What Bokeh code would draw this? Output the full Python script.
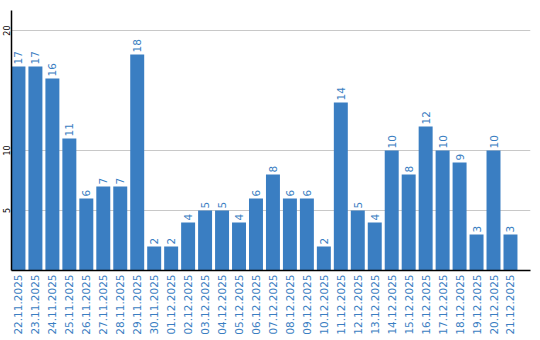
import math
from bokeh.plotting import figure
from bokeh.models import ColumnDataSource, FixedTicker, Range1d
from bokeh.core.properties import value
from bokeh.embed import file_html
from bokeh.resources import INLINE

dates = ["22.11.2025", "23.11.2025", "24.11.2025", "25.11.2025", "26.11.2025",
         "27.11.2025", "28.11.2025", "29.11.2025", "30.11.2025", "01.12.2025",
         "02.12.2025", "03.12.2025", "04.12.2025", "05.12.2025", "06.12.2025",
         "07.12.2025", "08.12.2025", "09.12.2025", "10.12.2025", "11.12.2025",
         "12.12.2025", "13.12.2025", "14.12.2025", "15.12.2025", "16.12.2025",
         "17.12.2025", "18.12.2025", "19.12.2025", "20.12.2025", "21.12.2025"]
counts = [17, 17, 16, 11, 6, 7, 7, 18, 2, 2,
          4, 5, 5, 4, 6, 8, 6, 6, 2, 14,
          5, 4, 10, 8, 12, 10, 9, 3, 10, 3]
y_ticks = [5, 10, 20]

BLUE = "#3a7ec2"
FONT = "DejaVu Sans"

xs = list(range(len(dates)))
src = ColumnDataSource(dict(x=xs, y=counts, lbl=[str(c) for c in counts]))

p = figure(width=540, height=340, output_backend="svg", toolbar_location=None,
           x_range=Range1d(-0.41, 30.18), y_range=Range1d(0, 21.67),
           min_border_left=10, min_border_right=10, min_border_top=10,
           min_border_bottom=70)
p.outline_line_color = None
p.background_fill_color = "white"

p.vbar(x="x", top="y", width=14/17, source=src, fill_color=BLUE, line_color=None)
p.text(x="x", y="y", text="lbl", source=src, angle=math.pi/2,
       text_align="left", text_baseline="middle", y_offset=-2,
       text_font=value(FONT), text_font_size="10.5px", text_color=BLUE)

p.xgrid.visible = False
p.ygrid.ticker = FixedTicker(ticks=y_ticks)
p.ygrid.grid_line_color = "#c8c8c8"
p.ygrid.grid_line_width = 1

xa = p.xaxis[0]
xa.ticker = FixedTicker(ticks=xs)
xa.major_label_overrides = {i: d for i, d in zip(xs, dates)}
xa.major_label_orientation = math.pi/2
xa.major_tick_line_color = None
xa.major_tick_out = 0
xa.major_tick_in = 0
xa.minor_tick_line_color = None
xa.minor_tick_out = 0
xa.axis_line_color = "black"
xa.axis_line_width = 1.5
xa.major_label_text_color = BLUE
xa.major_label_text_font = FONT
xa.major_label_text_font_size = "10.5px"
xa.major_label_standoff = 4

ya = p.yaxis[0]
ya.ticker = FixedTicker(ticks=y_ticks)
ya.major_label_orientation = "vertical"
ya.major_tick_line_color = None
ya.major_tick_out = 0
ya.major_tick_in = 0
ya.minor_tick_line_color = None
ya.minor_tick_out = 0
ya.axis_line_color = "black"
ya.axis_line_width = 1.5
ya.major_label_text_color = "black"
ya.major_label_text_font = FONT
ya.major_label_text_font_size = "8px"
ya.major_label_standoff = 1

open("out.html", "w").write(file_html(p, INLINE))
